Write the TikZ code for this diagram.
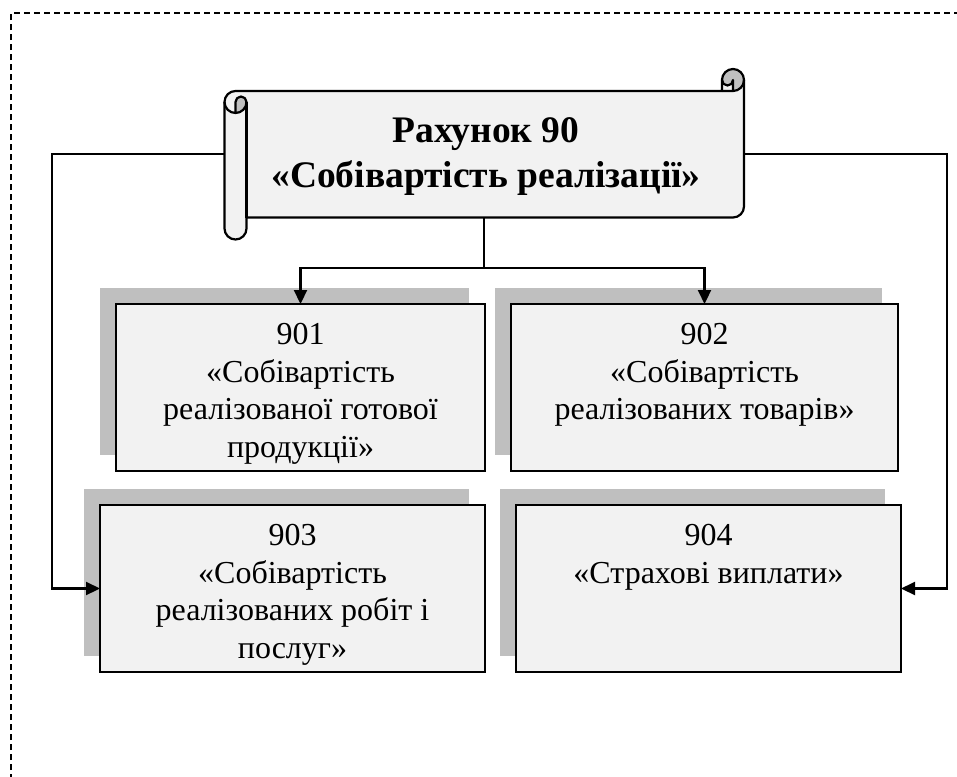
\documentclass[tikz,border=0pt]{standalone}
\usepackage{fontspec}
\setmainfont{Liberation Serif}
\usetikzlibrary{arrows.meta,backgrounds,calc}
\definecolor{paper}{HTML}{F2F2F2}
\definecolor{shadowgray}{HTML}{BFBFBF}
\definecolor{curlgray}{HTML}{C0C0C0}
\tikzset{
  acctbox/.style={draw=black, line width=2pt, fill=paper, minimum width=385pt, minimum height=167pt, inner sep=0pt, outer sep=0pt},
  acctext/.style={anchor=north, align=center, inner sep=0pt, font=\fontsize{32}{37.5}\selectfont},
  link/.style={line width=2.2pt, -{Triangle[length=14pt,width=13pt]}},
  plainlink/.style={line width=2.2pt},
  frameline/.style={line width=1.3pt, dash pattern=on 6pt off 4pt},
  scrollline/.style={line width=2.2pt, line join=round},
}
\begin{document}
\begin{tikzpicture}[x=1pt,y=-1pt]
\useasboundingbox (0,0) rectangle (957,776);
% dashed frame
\draw[frameline] (11,800) -- (11,13) -- (980,13);

% scroll
\fill[paper] (744,80) arc (0:90:11) -- (733,80) arc (0:180:5.5) -- (722,91) -- (235.5,91) arc (270:180:11) -- (224.5,228.5) arc (180:0:11) -- (246.5,217.5) -- (733,217.5) arc (90:0:11) -- cycle;
\fill[curlgray] (235.5,113) arc (90:0:11) arc (0:-180:5.5) -- cycle;
\fill[curlgray] (733,91) arc (90:-180:11) arc (180:0:5.5) -- cycle;
\draw[scrollline] (224.5,102) arc (180:270:11) -- (722,91) -- (722,80) arc (180:360:11) -- (744,206.5) arc (0:90:11) -- (246.5,217.5) -- (246.5,228.5) arc (0:180:11) -- cycle;
\draw[scrollline] (722,91) -- (733,91) arc (90:0:11);
\draw[scrollline] (733,91) -- (733,80) arc (0:180:5.5);
\draw[scrollline] (235.5,113) -- (235.5,102) arc (180:360:5.5) arc (0:180:11);
\draw[scrollline] (246.5,102) -- (246.5,217.5);
\node[minimum width=519.5pt, minimum height=126.5pt, inner sep=0pt, outer sep=0pt] (scroll) at (484.25,154.25) {};
\node[font=\bfseries\fontsize{37.5}{45}\selectfont, align=center] (title) at (486,157) {Рахунок 90\\«Собівартість реалізації»};

% boxes
\node[acctbox, minimum width=369pt] (b901) at (300.5,387.5) {};
\node[acctbox, minimum width=387pt] (b902) at (704.5,387.5) {};
\node[acctbox] (b903) at (292.5,588.5) {};
\node[acctbox] (b904) at (708.5,588.5) {};
\begin{scope}[on background layer]
\foreach \b in {b901,b902,b903,b904}
  \fill[shadowgray] ($(\b.south west)+(-16,-16)$) rectangle ($(\b.north east)+(-16,-16)$);
\end{scope}

\node[acctext] (t901) at ([yshift=-14.5pt]b901.north) {\strut 901\\«Собівартість\\реалізованої готової\\продукції»};
\node[acctext] (t902) at ([yshift=-14.5pt]b902.north) {\strut 902\\«Собівартість\\реалізованих товарів»};
\node[acctext] (t903) at ([yshift=-14.5pt]b903.north) {\strut 903\\«Собівартість\\реалізованих робіт і\\послуг»};
\node[acctext] (t904) at ([yshift=-14.5pt]b904.north) {\strut 904\\«Страхові виплати»};

% connectors
\coordinate (hy) at (0,268);
\coordinate (lx) at (52,0);
\coordinate (rx) at (947,0);
\coordinate (split) at (scroll.south |- hy);
\draw[plainlink] (scroll.south) -- (split);
\draw[link] (split) -| (b901.north);
\draw[link] (split) -| (b902.north);
\draw[link] (scroll.west) -| (lx |- b903.west) -- (b903.west);
\draw[link] (scroll.east) -| (rx |- b904.east) -- (b904.east);
\end{tikzpicture}
\end{document}
